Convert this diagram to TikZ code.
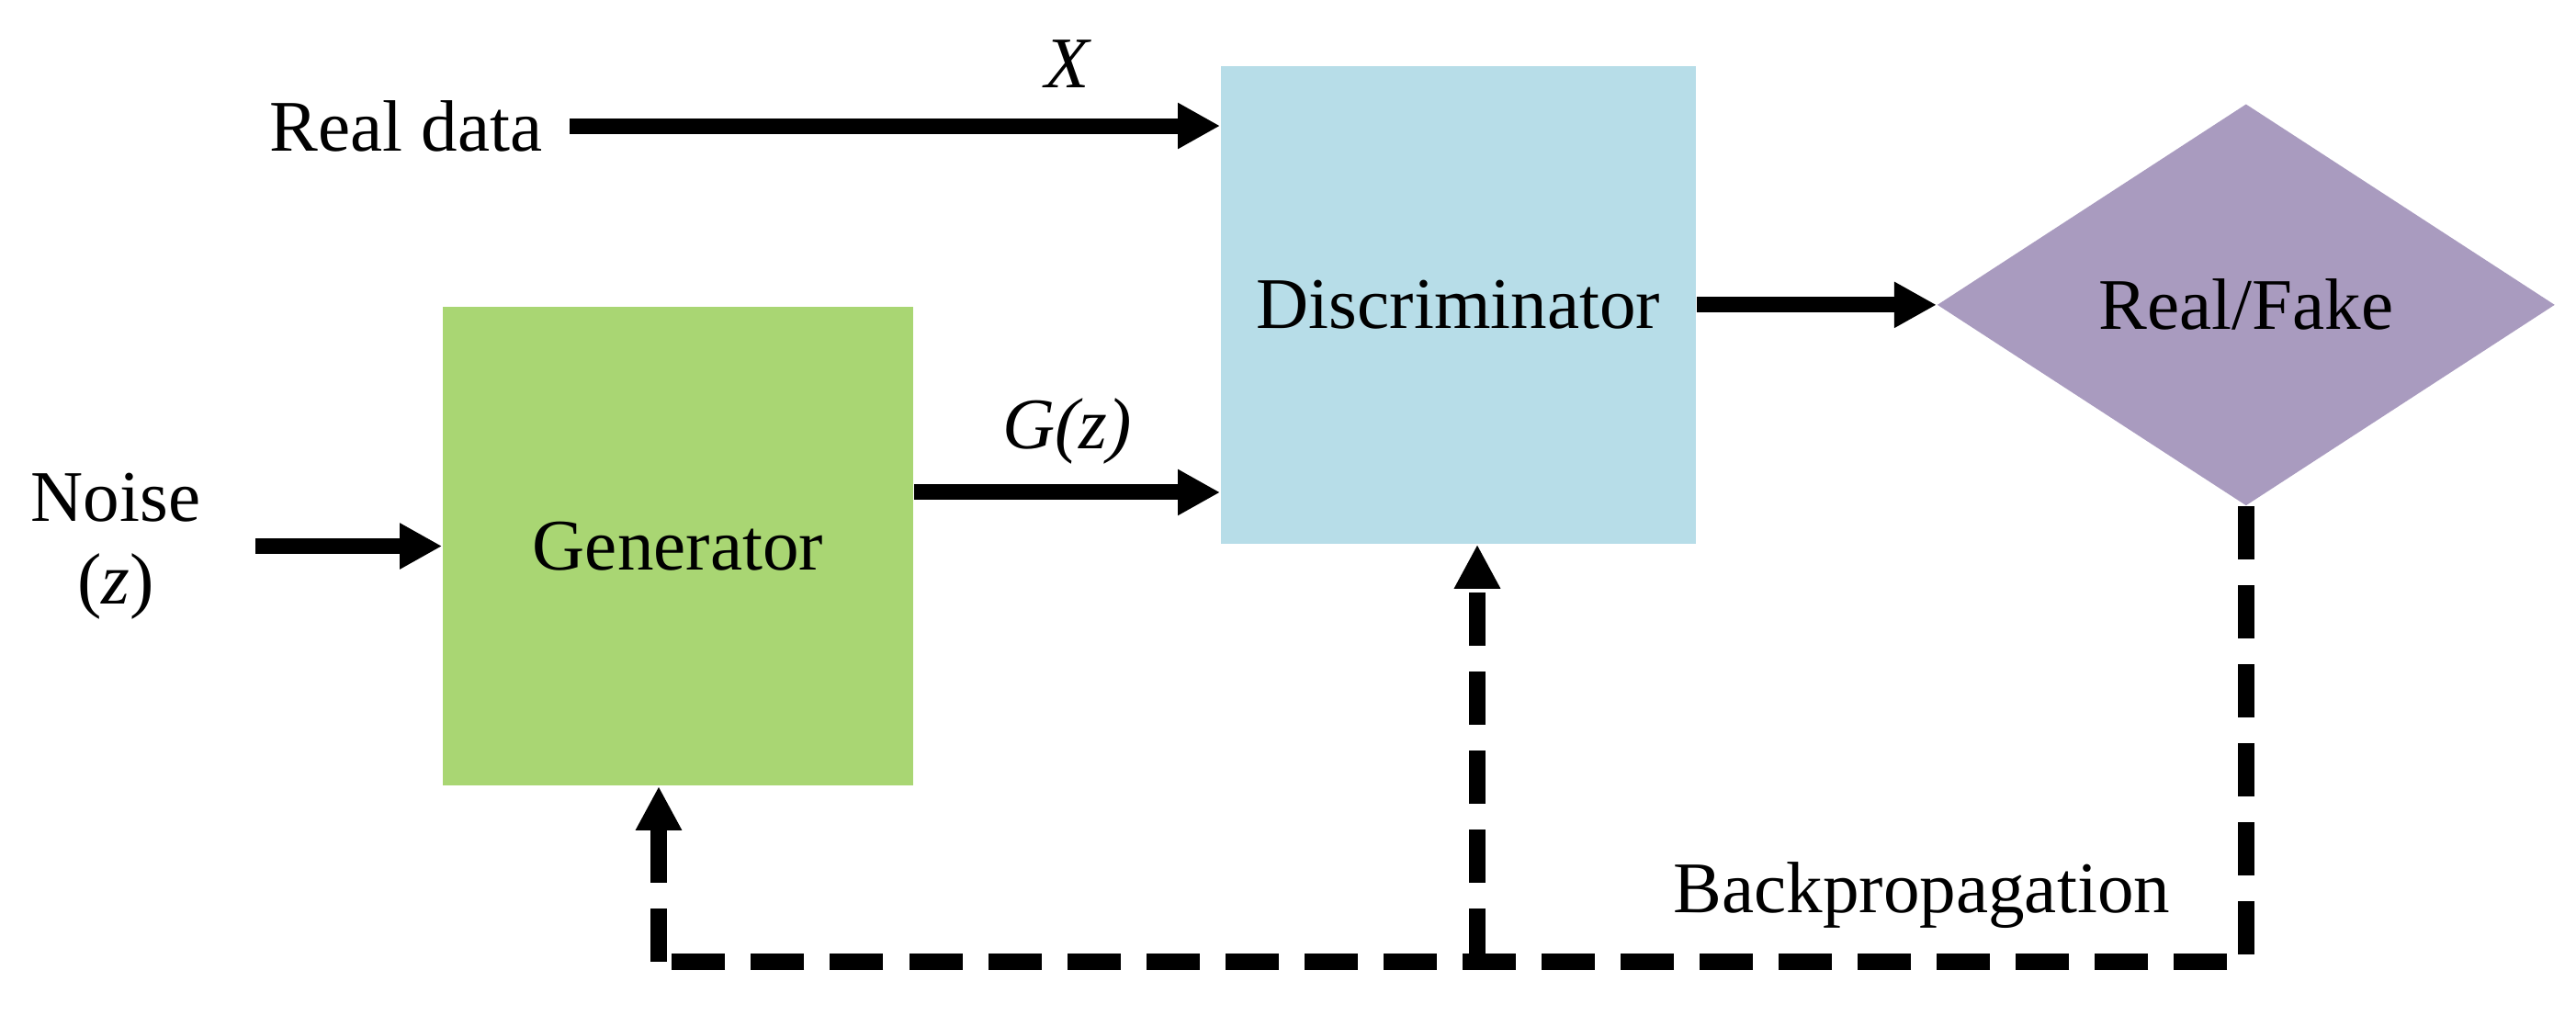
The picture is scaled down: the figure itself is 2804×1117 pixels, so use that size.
\documentclass[tikz,border=0pt]{standalone}
\usepackage{fontspec}
\setmainfont{Liberation Serif}
\usepackage{tikz}
\usetikzlibrary{shapes.geometric, arrows.meta, positioning}
\definecolor{gengreen}{HTML}{A9D673}
\definecolor{discblue}{HTML}{B7DDE8}
\definecolor{decpurple}{HTML}{A99BBF}
\tikzstyle{block} = [rectangle, inner sep=0pt, text centered]
\tikzstyle{decision} = [diamond, fill=decpurple, minimum width=6.72cm, minimum height=4.37cm, aspect=1.54, inner sep=0pt]
\tikzstyle{txt} = [inner sep=0pt]
\tikzstyle{arrow} = [line width=0.17cm, -{Triangle[length=0.46cm, width=0.47cm]}]
\tikzstyle{feedback} = [line width=0.18cm, dash pattern=on 0.58cm off 0.28cm]
\tikzstyle{feedarrow} = [feedback, -{Triangle[length=0.48cm, width=0.47cm]}]

\begin{document}
\begin{tikzpicture}[x=0.01cm, y=-0.01cm, font=\fontsize{22.5pt}{25.5pt}\selectfont]
    \useasboundingbox (0,0) rectangle (2804,1117);

    \node (gen) [block, fill=gengreen, minimum width=5.12cm, minimum height=5.21cm] at (738,594.5) {Generator};
    \node (disc) [block, fill=discblue, minimum width=5.17cm, minimum height=5.2cm, right=3.33cm of gen, yshift=2.625cm] {Discriminator};
    \node (dec) [decision, right=2.61cm of disc] {Real/Fake};
    \node (noise) [txt, align=center, left=2.62cm of gen] {Noise\\(\textit{z})};
    \node (realdata) [txt] at (442,137) {Real data};

    % Solid arrows
    \coordinate (gzout) at ([yshift=0.585cm]gen.east);
    \draw [arrow, shorten <=0.29cm] (realdata.east) -- node[txt, pos=0.776, above=0.33cm] {\textit{X}} (realdata.east -| disc.west);
    \draw [arrow, shorten <=0.59cm] (noise.east) -- (gen.west);
    \draw [arrow] (gzout) -- node[txt, midway, above=0.22cm] {\textit{G(z)}} (gzout -| disc.west);
    \draw [arrow] (disc.east) -- (dec.west);

    % Backpropagation loop (dashed)
    \coordinate (rightfoot) at (dec.south |- 0,1047);
    \coordinate (leftfoot) at (717,1047);
    \coordinate (midfoot) at (1608,1047);
    \draw [feedback] (dec.south) -- (rightfoot) -- (leftfoot);
    \draw [feedarrow] (leftfoot) -- (leftfoot |- gen.south);
    \draw [feedarrow] (midfoot) -- (midfoot |- disc.south);
    \node (bplabel) [txt, above left=0.36cm and 0.82cm of rightfoot] {Backpropagation};

\end{tikzpicture}
\end{document}
